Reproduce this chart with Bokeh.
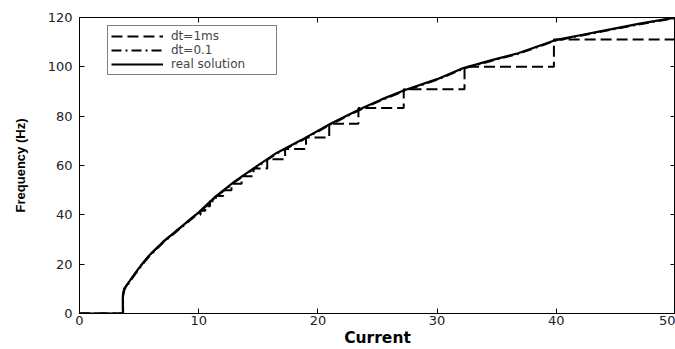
from bokeh.plotting import figure
from bokeh.models import Range1d, LinearAxis, Legend, LegendItem, FixedTicker, CustomJSTickFormatter
from bokeh.embed import file_html
from bokeh.resources import INLINE

# ---- data ----
real_current = [0, 3.64, 3.64, 3.75, 4.14, 5.0, 5.82, 7.0, 8.63, 10.0, 11.43, 13.0, 14.6, 16.5,
                18.6, 21.1, 23.6, 25.3, 27.25, 30.0, 32.2, 34.5, 36.8, 39.9, 42.0, 44.1, 47.0, 50.0]
real_freq = [0, 0, 7.4, 10.0, 12.7, 18.5, 23.4, 29.0, 35.5, 41.0, 47.5, 53.5, 58.8, 65.0,
             70.3, 77.0, 83.0, 86.7, 90.5, 95.0, 99.5, 102.6, 105.5, 110.8, 112.8, 114.8, 117.5, 120.0]

dt01_current = [0, 3.66, 3.66, 3.78, 4.16, 5.02, 5.85, 7.03, 8.66, 10.03, 11.46, 13.03, 14.63, 16.53,
                18.63, 21.13, 23.63, 25.33, 27.28, 30.03, 32.23, 34.53, 36.83, 39.93, 42.03, 44.13, 47.03, 50.0]
dt01_freq = [0, 0, 7.2, 9.8, 12.5, 18.3, 23.2, 28.8, 35.3, 40.8, 47.3, 53.3, 58.6, 64.8,
             70.1, 76.8, 82.8, 86.5, 90.3, 94.8, 99.3, 102.4, 105.3, 110.6, 112.6, 114.6, 117.3, 119.8]

# dt = 1 ms: quantised frequency levels and the currents where each level starts
dt1_levels = [40.0, 41.7, 43.5, 45.5, 47.6, 50.0, 52.6, 55.6, 58.8, 62.5, 66.7, 71.4,
              76.9, 83.3, 90.9, 100.0, 111.1]
dt1_start = [9.75, 10.15, 10.55, 10.95, 11.45, 12.05, 12.75, 13.6, 14.6, 15.75, 17.25, 19.0,
             20.95, 23.4, 27.2, 32.3, 39.8]

x_ticks = [0, 10, 20, 30, 40, 50]
y_ticks = [0, 20, 40, 60, 80, 100, 120]
x_label = "Current"
y_label = "Frequency (Hz)"
legend_labels = ["dt=1ms", "dt=0.1", "real solution"]

# build dashed (dt=1ms) path: follows the curve below the first level, then stair steps
dt1_x, dt1_y = [], []
for cx, fy in zip(real_current, real_freq):
    if cx < dt1_start[0]:
        dt1_x.append(cx)
        dt1_y.append(fy)
ends = dt1_start[1:] + [x_ticks[-1]]
for i, lvl in enumerate(dt1_levels):
    dt1_x += [dt1_start[i], ends[i]]
    dt1_y += [lvl, lvl]

# ---- figure ----
p = figure(width=675, height=349, output_backend="svg", toolbar_location=None,
           x_range=Range1d(0, 50), y_range=Range1d(0, 120),
           min_border_left=79, min_border_right=0, min_border_top=17, min_border_bottom=35)
p.background_fill_color = "white"
p.border_fill_color = "white"
p.outline_line_color = "black"
p.grid.visible = False

tick_font = "DejaVu Sans"
for ax in [p.xaxis[0], p.yaxis[0]]:
    ax.major_tick_in = 5
    ax.major_tick_out = 0
    ax.minor_tick_line_color = None
    ax.axis_line_color = "black"
    ax.major_tick_line_color = "black"
    ax.major_label_text_font = tick_font
    ax.major_label_text_font_size = "13px"
    ax.major_label_text_color = "#222222"
    ax.axis_label_text_font_style = "bold"
    ax.axis_label_text_color = "black"

p.xaxis[0].ticker = FixedTicker(ticks=x_ticks)
p.yaxis[0].ticker = FixedTicker(ticks=y_ticks)
p.xaxis[0].axis_label = x_label
p.yaxis[0].axis_label = y_label
p.xaxis[0].major_label_standoff = 2
p.xaxis[0].axis_label_standoff = 1
p.xaxis[0].axis_label_text_font = "DejaVu Sans"
p.xaxis[0].axis_label_text_font_size = "15.5px"
p.yaxis[0].major_label_standoff = 7
p.yaxis[0].axis_label_standoff = 17
p.yaxis[0].axis_label_text_font = "Liberation Sans"
p.yaxis[0].axis_label_text_font_size = "13px"

# top and right axes: ticks only
blank = CustomJSTickFormatter(code="return ''")
top = LinearAxis(ticker=FixedTicker(ticks=x_ticks), major_tick_in=5, major_tick_out=0,
                 minor_tick_line_color=None, formatter=blank,
                 major_label_standoff=0, axis_line_color="black")
right = LinearAxis(ticker=FixedTicker(ticks=y_ticks), major_tick_in=5, major_tick_out=0,
                   minor_tick_line_color=None, formatter=blank,
                   major_label_standoff=0, axis_line_color="black")
p.add_layout(top, "above")
p.add_layout(right, "right")

r1 = p.line(dt1_x, dt1_y, line_color="black", line_width=2, line_dash="11 5")
r2 = p.line(dt01_current, dt01_freq, line_color="black", line_width=2, line_dash="10 4 2 4")
r3 = p.line(real_current, real_freq, line_color="black", line_width=2.2)

legend = Legend(items=[LegendItem(label=legend_labels[0], renderers=[r1]),
                       LegendItem(label=legend_labels[1], renderers=[r2]),
                       LegendItem(label=legend_labels[2], renderers=[r3])],
                location=(28, 238), orientation="vertical")
legend.label_text_font = tick_font
legend.label_text_font_size = "12px"
legend.label_height = 14
legend.glyph_height = 14
legend.glyph_width = 52
legend.label_standoff = 8
legend.label_width = 102
legend.spacing = 0
legend.padding = 3
legend.margin = 0
legend.border_line_color = "black"
legend.border_line_width = 1
legend.background_fill_color = "white"
legend.background_fill_alpha = 1
p.add_layout(legend, "center")

open("out.html", "w").write(file_html(p, INLINE))
